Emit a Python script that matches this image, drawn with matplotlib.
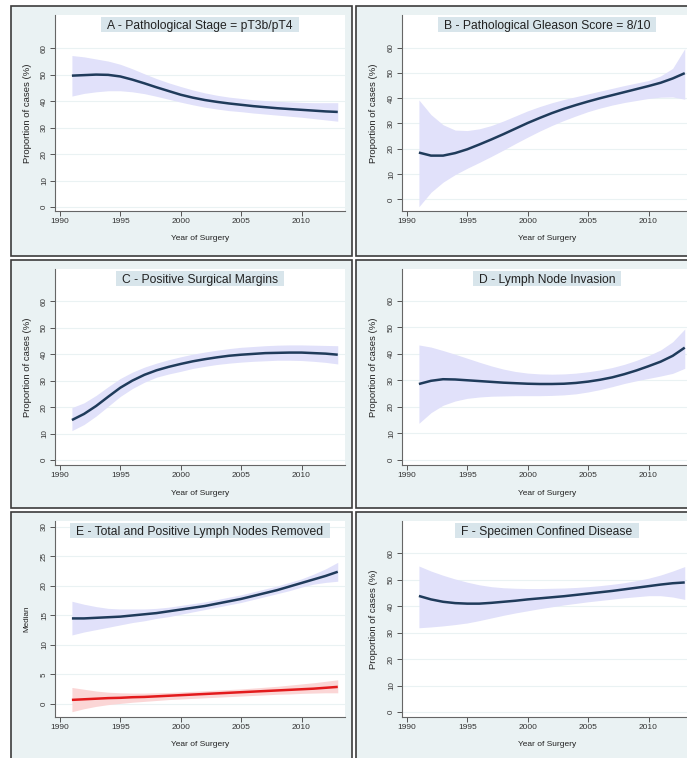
import matplotlib
matplotlib.use("Agg")
import matplotlib.pyplot as plt
from matplotlib.patches import Rectangle

plt.rcParams['font.family'] = ['Liberation Sans', 'DejaVu Sans']

W, H = 687, 758

years = list(range(1991, 2014))

# A - pT3b/pT4
stage_mean = [49.7, 49.9, 50.1, 50.0, 49.4, 48.2, 46.8, 45.3, 43.9, 42.5, 41.4, 40.5,
              39.8, 39.2, 38.7, 38.2, 37.8, 37.4, 37.1, 36.8, 36.5, 36.2, 36.0]
stage_hi = [57.3, 56.8, 56.0, 55.2, 54.0, 52.3, 50.4, 48.6, 47.0, 45.6, 44.3, 43.2,
            42.3, 41.6, 41.1, 40.6, 40.3, 40.0, 39.8, 39.6, 39.5, 39.5, 39.5]
stage_lo = [42.0, 43.0, 43.6, 44.0, 44.0, 43.6, 42.9, 41.9, 40.8, 39.7, 38.7, 37.8,
            37.1, 36.5, 36.1, 35.6, 35.2, 34.8, 34.4, 34.0, 33.5, 33.0, 32.5]

# B - Gleason 8/10
gleason_mean = [18.5, 17.3, 17.3, 18.3, 19.8, 21.7, 23.7, 25.8, 28.0, 30.2, 32.2, 34.1,
                35.8, 37.3, 38.7, 40.0, 41.2, 42.4, 43.6, 44.8, 46.1, 47.8, 49.9]
gleason_hi = [39.3, 33.5, 29.5, 27.4, 27.2, 27.9, 29.2, 31.0, 33.0, 35.0, 36.7, 38.2,
              39.5, 40.6, 41.7, 42.8, 43.9, 45.0, 46.0, 47.0, 48.8, 51.8, 59.6]
gleason_lo = [-2.9, 2.8, 6.8, 9.8, 12.3, 14.6, 17.0, 19.5, 22.1, 24.6, 27.0, 29.2,
              31.2, 33.0, 34.7, 36.1, 37.3, 38.3, 39.1, 39.9, 40.4, 40.5, 39.6]

# C - positive surgical margins
margin_mean = [15.1, 17.4, 20.4, 23.9, 27.3, 30.0, 32.2, 33.9, 35.2, 36.3, 37.3, 38.1,
               38.8, 39.4, 39.8, 40.1, 40.4, 40.5, 40.6, 40.6, 40.4, 40.2, 39.8]
margin_hi = [19.8, 21.6, 24.4, 27.7, 30.8, 33.2, 35.1, 36.6, 37.9, 39.0, 40.0, 40.8,
             41.5, 42.1, 42.6, 42.9, 43.2, 43.4, 43.5, 43.5, 43.4, 43.3, 43.2]
margin_lo = [11.1, 13.4, 16.6, 20.3, 24.0, 27.0, 29.4, 31.3, 32.5, 33.5, 34.6, 35.4,
             36.1, 36.6, 37.0, 37.3, 37.5, 37.7, 37.7, 37.6, 37.3, 36.9, 36.3]

# D - lymph node invasion
lni_mean = [28.6, 29.8, 30.4, 30.3, 30.0, 29.7, 29.4, 29.1, 28.9, 28.7, 28.6, 28.6,
            28.7, 29.0, 29.5, 30.2, 31.1, 32.3, 33.7, 35.3, 37.0, 39.2, 42.3]
lni_hi = [43.3, 42.5, 41.2, 39.8, 38.3, 36.8, 35.4, 34.2, 33.3, 32.7, 32.4, 32.3,
          32.4, 32.7, 33.2, 33.9, 34.8, 36.0, 37.5, 39.3, 41.4, 44.5, 49.3]
lni_lo = [13.8, 17.8, 20.6, 22.2, 23.2, 23.7, 24.0, 24.1, 24.2, 24.2, 24.2, 24.3,
          24.5, 24.9, 25.6, 26.5, 27.6, 28.8, 29.8, 30.7, 31.6, 32.6, 34.5]

# E - total and positive nodes removed (medians)
total_mean = [14.5, 14.5, 14.6, 14.7, 14.8, 15.0, 15.2, 15.4, 15.7, 16.0, 16.3, 16.6,
              17.0, 17.4, 17.8, 18.3, 18.8, 19.3, 19.9, 20.5, 21.1, 21.7, 22.4]
total_hi = [17.4, 16.9, 16.5, 16.2, 16.1, 16.1, 16.1, 16.2, 16.4, 16.7, 17.0, 17.3,
            17.7, 18.1, 18.5, 19.0, 19.5, 20.0, 20.6, 21.2, 22.0, 22.9, 24.0]
total_lo = [11.7, 12.2, 12.6, 13.0, 13.4, 13.8, 14.1, 14.5, 14.8, 15.2, 15.6, 16.0,
            16.4, 16.8, 17.2, 17.7, 18.2, 18.7, 19.2, 19.8, 20.3, 20.6, 20.8]
pos_mean = [0.7, 0.8, 0.9, 1.0, 1.05, 1.15, 1.2, 1.3, 1.4, 1.5, 1.6, 1.7,
            1.8, 1.9, 2.0, 2.1, 2.2, 2.3, 2.4, 2.5, 2.6, 2.75, 2.9]
pos_hi = [2.8, 2.5, 2.2, 2.0, 1.9, 1.85, 1.85, 1.9, 1.95, 2.05, 2.15, 2.25,
          2.35, 2.45, 2.55, 2.7, 2.85, 3.0, 3.2, 3.4, 3.6, 3.85, 4.1]
pos_lo = [-1.3, -0.8, -0.4, -0.1, 0.1, 0.3, 0.45, 0.6, 0.75, 0.85, 0.95, 1.05,
          1.15, 1.25, 1.35, 1.45, 1.55, 1.65, 1.7, 1.8, 1.85, 1.9, 1.9]

# F - specimen confined disease
confined_mean = [43.9, 42.6, 41.7, 41.2, 41.0, 41.0, 41.3, 41.7, 42.1, 42.6, 43.0, 43.4,
                 43.8, 44.3, 44.8, 45.3, 45.8, 46.4, 47.0, 47.6, 48.2, 48.7, 49.0]
confined_hi = [55.2, 53.3, 51.7, 50.3, 49.1, 48.1, 47.4, 47.0, 46.8, 46.7, 46.7, 46.8,
               46.9, 47.1, 47.4, 47.8, 48.3, 48.9, 49.7, 50.6, 51.8, 53.3, 55.0]
confined_lo = [31.9, 32.2, 32.6, 33.1, 33.7, 34.6, 35.6, 36.6, 37.5, 38.3, 39.1, 39.8,
               40.5, 41.1, 41.7, 42.2, 42.7, 43.2, 43.6, 44.0, 44.0, 43.5, 42.6]

pct_ticks = [0, 10, 20, 30, 40, 50, 60]
median_ticks = [0, 5, 10, 15, 20, 25, 30]
year_ticks = [1990, 1995, 2000, 2005, 2010]

NAVY = '#1f3b5b'
BAND = '#e1e1fa'
RED = '#e31a1c'
RED_BAND = '#fbd6d6'
GRAPH_BG = '#eaf2f3'
TITLE_BG = '#d8e5eb'

fig = plt.figure(figsize=(W / 100, H / 100), dpi=100)
fig.patch.set_facecolor('white')


def frac_rect(left, top, right, bottom):
    return [left / W, 1 - bottom / H, (right - left) / W, (bottom - top) / H]


def make_panel(col, row, title, ylim, yticks, ylabel, ylabel_size):
    left = 11 if col == 0 else 356
    right = 352 if col == 0 else 702
    top = [6, 260, 512][row]
    bottom = [256, 508, 772][row]
    x0, y0, w, h = frac_rect(left, top, right, bottom)
    # graph region behind the axes
    fig.patches.append(Rectangle((x0, y0), w, h, transform=fig.transFigure,
                                 facecolor=GRAPH_BG, edgecolor='#3c3c3c', lw=1.2,
                                 zorder=-10))

    ax_left = left + 44 if col == 0 else left + 46
    ax = fig.add_axes(frac_rect(ax_left, top + 9, ax_left + 290, top + 205))
    ax.set_facecolor('white')
    ax.set_xlim(1989.6, 2013.6)
    ax.set_ylim(*ylim)
    ax.set_xticks(year_ticks)
    ax.set_yticks(yticks)
    ax.set_yticklabels([str(t) for t in yticks], rotation=90, va='center')
    ax.tick_params(axis='x', labelsize=6.0, length=3.5, width=0.7, color='#555555',
                   labelcolor='#333333', pad=1.5)
    ax.tick_params(axis='y', labelsize=5.8, length=3.5, width=0.7, color='#555555',
                   labelcolor='#333333', pad=1.5)
    ax.grid(axis='y', color=GRAPH_BG, lw=0.8)
    ax.set_axisbelow(True)
    for side in ('top', 'right'):
        ax.spines[side].set_visible(False)
    for side in ('left', 'bottom'):
        ax.spines[side].set_color('#666666')
        ax.spines[side].set_linewidth(0.8)

    ax.text(0.5, -28 / 196, 'Year of Surgery', transform=ax.transAxes,
            ha='center', va='center', fontsize=6.0, color='#222222')
    ax.text(-28 / 290, 0.5, ylabel, transform=ax.transAxes, rotation=90,
            ha='center', va='center', fontsize=ylabel_size, color='#222222')

    t = ax.text(0.5, 1 - 10.5 / 196, title, transform=ax.transAxes, ha='center',
                va='center', fontsize=8.7, color='#222222', zorder=6)
    renderer = fig.canvas.get_renderer()
    bb = t.get_window_extent(renderer)
    inv = ax.transAxes.inverted()
    (bx0, by0), (bx1, by1) = inv.transform([[bb.x0 - 6, bb.y1 - 12.5],
                                            [bb.x1 + 6, bb.y1 + 2.5]])
    ax.add_patch(Rectangle((bx0, by0), bx1 - bx0, by1 - by0, transform=ax.transAxes,
                           facecolor=TITLE_BG, edgecolor='none', zorder=5, clip_on=False))
    return ax


def draw_trend(ax, mean, lo, hi, line_color, band_color):
    ax.fill_between(years, lo, hi, color=band_color, lw=0, zorder=2)
    ax.plot(years, mean, color=line_color, lw=1.8, zorder=3, solid_capstyle='butt')


ax = make_panel(0, 0, 'A - Pathological Stage = pT3b/pT4', (-1.4, 72.6), pct_ticks,
                'Proportion of cases (%)', 6.8)
draw_trend(ax, stage_mean, stage_lo, stage_hi, NAVY, BAND)

ax = make_panel(1, 0, 'B - Pathological Gleason Score = 8/10', (-4.6, 72.9), pct_ticks,
                'Proportion of cases (%)', 6.8)
draw_trend(ax, gleason_mean, gleason_lo, gleason_hi, NAVY, BAND)

ax = make_panel(0, 1, 'C - Positive Surgical Margins', (-1.9, 72.2), pct_ticks,
                'Proportion of cases (%)', 6.8)
draw_trend(ax, margin_mean, margin_lo, margin_hi, NAVY, BAND)

ax = make_panel(1, 1, 'D - Lymph Node Invasion', (-1.9, 71.9), pct_ticks,
                'Proportion of cases (%)', 6.8)
draw_trend(ax, lni_mean, lni_lo, lni_hi, NAVY, BAND)

ax = make_panel(0, 2, 'E - Total and Positive Lymph Nodes Removed', (-2.2, 31.0),
                median_ticks, 'Median', 5.9)
draw_trend(ax, total_mean, total_lo, total_hi, NAVY, BAND)
draw_trend(ax, pos_mean, pos_lo, pos_hi, RED, RED_BAND)

ax = make_panel(1, 2, 'F - Specimen Confined Disease', (-1.8, 72.2), pct_ticks,
                'Proportion of cases (%)', 6.8)
draw_trend(ax, confined_mean, confined_lo, confined_hi, NAVY, BAND)

fig.savefig('out.png', dpi=100)
